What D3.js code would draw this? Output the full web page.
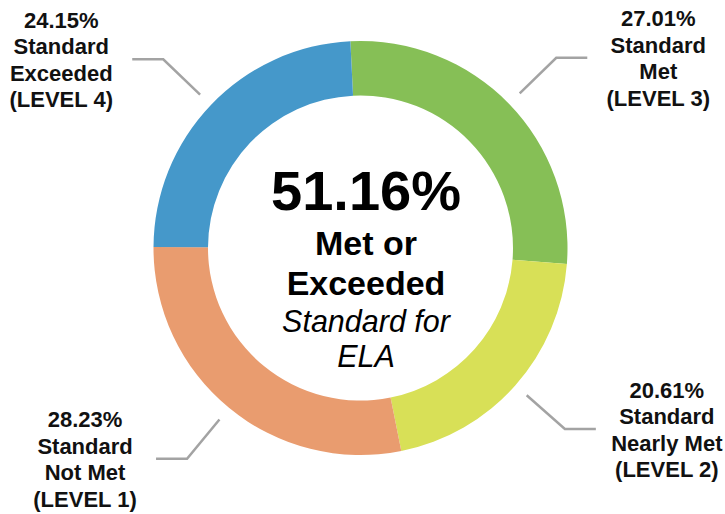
<!DOCTYPE html>
<html>
<head>
<meta charset="utf-8">
<script src="https://cdn.jsdelivr.net/npm/d3@7"></script>
<style>
  html, body { margin: 0; padding: 0; background: #fff; }
  svg { display: block; font-family: "Liberation Sans", Arial, Helvetica, sans-serif; }
</style>
</head>
<body>
<svg id="chart" width="725" height="514"></svg>
<script>
// ---- data ----
const categories = ["Standard Met (LEVEL 3)", "Standard Nearly Met (LEVEL 2)", "Standard Not Met (LEVEL 1)", "Standard Exceeded (LEVEL 4)"];
const values = [27.01, 20.61, 28.23, 24.15];
const colors = ["#86bf56", "#d8e057", "#e99c6f", "#4598ca"];
const labelLines = [
  ["27.01%", "Standard", "Met", "(LEVEL 3)"],
  ["20.61%", "Standard", "Nearly Met", "(LEVEL 2)"],
  ["28.23%", "Standard", "Not Met", "(LEVEL 1)"],
  ["24.15%", "Standard", "Exceeded", "(LEVEL 4)"]
];
const centerBold = ["51.16%", "Met or", "Exceeded"];
const centerItalic = ["Standard for", "ELA"];

// ---- layout ----
const svg = d3.select("#chart");
const cx = 360.5, cy = 248;
const outerR = 207, innerR = 152.5;
const startA = -2.8 * Math.PI / 180;

const pie = d3.pie().sort(null).value(d => d)
  .startAngle(startA).endAngle(startA + 2 * Math.PI);
const arcs = pie(values);

const arc = d3.arc().innerRadius(innerR).outerRadius(outerR);
const lineStartArc = d3.arc().innerRadius(outerR + 15).outerRadius(outerR + 15);
const elbowArc = d3.arc().innerRadius(273).outerRadius(273);

const g = svg.append("g").attr("transform", `translate(${cx},${cy})`);

g.selectAll("path.slice").data(arcs).enter().append("path")
  .attr("class", "slice")
  .attr("d", arc)
  .attr("fill", (d, i) => colors[i]);

// leader lines
const hLen = 31;
const labelOffset = 71;
arcs.forEach((d, i) => {
  const mid = (d.startAngle + d.endAngle) / 2;
  const right = Math.sin(mid) > 0;
  const p0 = lineStartArc.centroid(d);
  const p1 = elbowArc.centroid(d);
  const p2 = [p1[0] + (right ? hLen : -hLen), p1[1]];
  g.append("polyline")
    .attr("points", [p0, p1, p2].map(p => p.join(",")).join(" "))
    .attr("fill", "none")
    .attr("stroke", "#a3a3a3")
    .attr("stroke-width", 2.5);
  const tx = p2[0] + (right ? labelOffset : -labelOffset);
  const lh = 26.5;
  const t = g.append("text")
    .attr("text-anchor", "middle")
    .attr("font-weight", "bold")
    .attr("font-size", 22)
    .attr("fill", "#111");
  labelLines[i].forEach((s, k) => {
    t.append("tspan").attr("x", tx).attr("y", p1[1] - 31.5 + k * lh).text(s);
  });
});

// center text
const ctx = 366 - cx;
g.append("text").attr("x", ctx).attr("y", 210 - cy)
  .attr("text-anchor", "middle").attr("font-weight", "bold")
  .attr("font-size", 56).attr("fill", "#000").text(centerBold[0]);
g.append("text").attr("x", ctx).attr("y", 255 - cy)
  .attr("text-anchor", "middle").attr("font-weight", "bold")
  .attr("font-size", 34).attr("fill", "#000").text(centerBold[1]);
g.append("text").attr("x", ctx).attr("y", 295 - cy)
  .attr("text-anchor", "middle").attr("font-weight", "bold")
  .attr("font-size", 34).attr("fill", "#000").text(centerBold[2]);
g.append("text").attr("x", ctx).attr("y", 331.5 - cy)
  .attr("text-anchor", "middle").attr("font-style", "italic")
  .attr("font-size", 30.5).attr("fill", "#000").text(centerItalic[0]);
g.append("text").attr("x", ctx).attr("y", 366.5 - cy)
  .attr("text-anchor", "middle").attr("font-style", "italic")
  .attr("font-size", 30.5).attr("fill", "#000").text(centerItalic[1]);
</script>
</body>
</html>
